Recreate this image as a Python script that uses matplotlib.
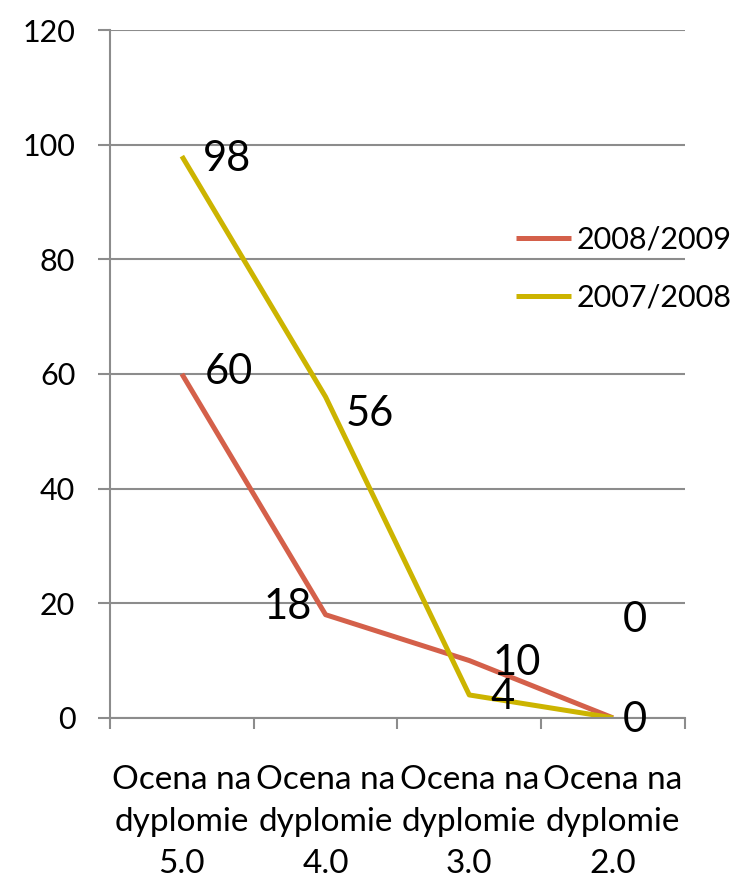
import numpy as np
import matplotlib.pyplot as plt

categories = ['Ocena na\ndyplomie\n5.0', 'Ocena na\ndyplomie\n4.0',
              'Ocena na\ndyplomie\n3.0', 'Ocena na\ndyplomie\n2.0']
vals_0809 = [60, 18, 10, 0]
vals_0708 = [98, 56, 4, 0]
labels_0809 = ['60', '18', '10', '0']
labels_0708 = ['98', '56', '4', '0']

plt.rcParams['font.family'] = ['Lato', 'DejaVu Sans']
grid_c = '#8c8c8c'
red = '#d4604a'
yellow = '#ccb400'

fig = plt.figure(figsize=(7.46, 8.83), dpi=100)
ax = fig.add_axes([0.1475, 0.187, 0.918 - 0.1475, 0.966 - 0.187])

x = np.arange(len(categories))
ax.plot(x, vals_0809, color=red, lw=3.6, label='2008/2009', solid_capstyle='butt')
ax.plot(x, vals_0708, color=yellow, lw=3.6, label='2007/2008', solid_capstyle='butt')

# data labels (pixel offsets, like moved labels in the original)
off_0809 = [(47, 2), (-38, 8), (47, -2), (22, 98)]
off_0708 = [(45, -3), (44, -17), (33, -2), (22, -2)]
for xi, v, t, o in zip(x, vals_0809, labels_0809, off_0809):
    ax.annotate(t, (xi, v), xytext=o, textcoords='offset pixels',
                ha='center', va='center', fontsize=30)
for xi, v, t, o in zip(x, vals_0708, labels_0708, off_0708):
    ax.annotate(t, (xi, v), xytext=o, textcoords='offset pixels',
                ha='center', va='center', fontsize=30)

ax.set_xlim(-0.5, 3.5)
ax.set_ylim(0, 120)
ax.set_yticks(range(0, 121, 20))
ax.yaxis.grid(True, color=grid_c, lw=1.5)
ax.set_axisbelow(True)
ax.tick_params(axis='y', length=9, width=1.5, color=grid_c, pad=16, labelsize=22)

ax.set_xticks(x)
ax.set_xticklabels(categories, linespacing=1.5)
ax.set_xticks(np.arange(-0.5, 4, 1), minor=True)
ax.tick_params(axis='x', which='major', length=0, pad=34, labelsize=24)
ax.tick_params(axis='x', which='minor', length=8, width=1.5, color=grid_c)

for s in ['top', 'right']:
    ax.spines[s].set_visible(False)
for s in ['left', 'bottom']:
    ax.spines[s].set_color(grid_c)
    ax.spines[s].set_linewidth(1.5)

ax.legend(loc='upper left', bbox_to_anchor=(0.706, 0.716), frameon=False,
          fontsize=22, handlelength=1.8, handletextpad=0.2, labelspacing=1.0,
          borderaxespad=0, borderpad=0)

fig.savefig('out.png', dpi=100)
